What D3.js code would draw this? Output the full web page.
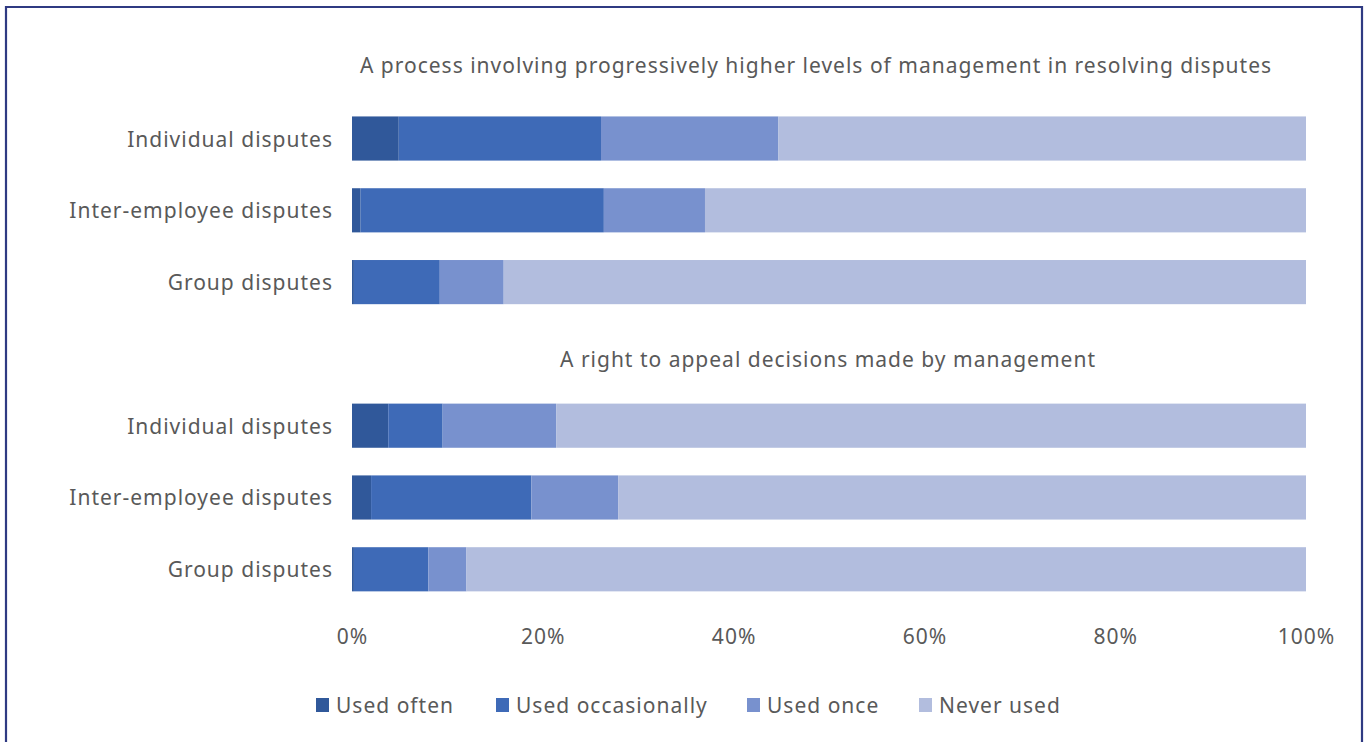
<!DOCTYPE html>
<html><head><meta charset="utf-8">
<script src="https://cdn.jsdelivr.net/npm/d3@7"></script>
<style>
html,body{margin:0;padding:0;background:#fff;}
svg{display:block;}
text{font-family:"Noto Sans","Open Sans",sans-serif;fill:#595959;letter-spacing:1px;}
</style></head>
<body>
<script>
const panelTitles = [
  "A process involving progressively higher levels of management in resolving disputes",
  "A right to appeal decisions made by management"
];
const categories = ["Individual disputes", "Inter-employee disputes", "Group disputes"];
const seriesNames = ["Used often", "Used occasionally", "Used once", "Never used"];
const colors = ["#30589A", "#3E6AB7", "#7891CE", "#B2BDDE"];
// values in %, per panel, per category
const usedOften       = [[4.9, 0.9, 0.2], [3.8, 2.0, 0.2]];
const usedOccasionally= [[21.2, 25.5, 9.0], [5.7, 16.8, 7.8]];
const usedOnce        = [[18.6, 10.6, 6.7], [11.9, 9.1, 4.0]];
const neverUsed       = [[55.3, 63.0, 84.1], [78.6, 72.1, 88.0]];
const xTicks = [0, 20, 40, 60, 80, 100];

const W = 1368, H = 742;
const FS = 21;
const svg = d3.select("body").append("svg").attr("width", W).attr("height", H);

// frame
svg.append("path")
  .attr("d", `M6,${H} L6,7 L1362,7 L1362,${H}`)
  .attr("fill", "none").attr("stroke", "#2F3A82").attr("stroke-width", 2.2);

// rows: title row + 3 categories for each panel
const rows = [];
panelTitles.forEach((t, p) => {
  rows.push({key: "t" + p, type: "title", text: t, p});
  categories.forEach((c, i) => rows.push({key: p + "-" + i, type: "bar", cat: c, p, i}));
});

const x = d3.scaleLinear().domain([0, 100]).range([352, 1306]);
const y = d3.scaleBand().domain(rows.map(r => r.key)).range([31, 605]).paddingInner(0.385).paddingOuter(0.19);

const series = [usedOften, usedOccasionally, usedOnce, neverUsed];
const titleCx = [816, 828], titleDy = [-2, 5];

rows.forEach(r => {
  const cy = y(r.key) + y.bandwidth() / 2;
  if (r.type === "title") {
    svg.append("text").attr("x", titleCx[r.p]).attr("y", cy + titleDy[r.p])
      .attr("text-anchor", "middle").attr("dominant-baseline", "central")
      .attr("font-size", FS).text(r.text);
  } else {
    const vals = series.map(s => s[r.p][r.i]);
    const stacked = d3.cumsum(vals);
    vals.forEach((v, k) => {
      const x0 = k === 0 ? 0 : stacked[k - 1];
      svg.append("rect")
        .attr("x", x(x0)).attr("y", y(r.key))
        .attr("width", Math.max(0, x(x0 + v) - x(x0))).attr("height", y.bandwidth())
        .attr("fill", colors[k]);
    });
    svg.append("text").attr("x", 333).attr("y", cy)
      .attr("text-anchor", "end").attr("dominant-baseline", "central")
      .attr("font-size", FS).text(r.cat);
  }
});

// x axis labels
const axis = d3.axisBottom(x).tickValues(xTicks).tickFormat(d => d + "%").tickSize(0).tickPadding(0);
const ag = svg.append("g").attr("transform", "translate(0,636)").call(axis);
ag.select(".domain").remove();
ag.selectAll("text").attr("font-size", FS).attr("fill", "#595959").attr("dy", null)
  .attr("dominant-baseline", "central")
  .style("font-family", '"Noto Sans","Open Sans",sans-serif');

// legend
const legendX = [316, 496, 747, 919];
const lg = svg.append("g");
seriesNames.forEach((n, k) => {
  lg.append("rect").attr("x", legendX[k]).attr("y", 698).attr("width", 13).attr("height", 14).attr("fill", colors[k]);
  lg.append("text").attr("x", legendX[k] + 20).attr("y", 705).attr("dominant-baseline", "central")
    .attr("font-size", FS).text(n);
});
</script>
</body></html>
